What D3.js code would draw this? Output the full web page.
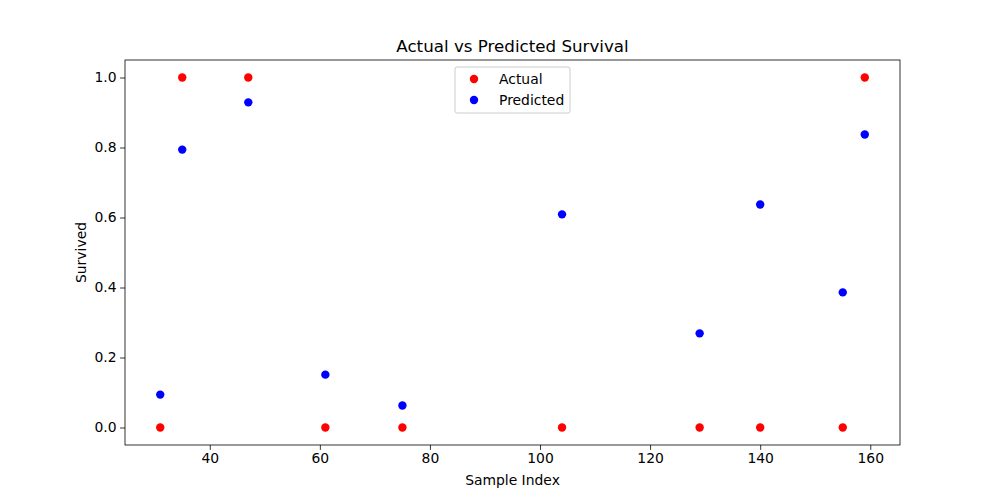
<!DOCTYPE html>
<html>
<head>
<meta charset="utf-8">
<script src="https://cdn.jsdelivr.net/npm/d3@7"></script>
<style>body{margin:0;background:#fff}</style>
</head>
<body>
<script>
const sampleIndex = [31, 35, 47, 61, 75, 104, 129, 140, 155, 159];
const actual = [0, 1, 1, 0, 0, 0, 0, 0, 0, 1];
const predicted = [0.094, 0.794, 0.929, 0.151, 0.063, 0.609, 0.269, 0.637, 0.386, 0.837];
const xTicks = [40, 60, 80, 100, 120, 140, 160];
const yTicks = [0, 0.2, 0.4, 0.6, 0.8, 1.0];

const W = 1000, H = 500;
const m = { left: 125, right: 100, top: 60, bottom: 55 };
const font = "DejaVu Sans, sans-serif";
const fs = 13.9;

const svg = d3.select("body").append("svg").attr("width", W).attr("height", H);

const xMin = d3.min(sampleIndex), xMax = d3.max(sampleIndex);
const xPad = (xMax - xMin) * 0.05;
const x = d3.scaleLinear().domain([xMin - xPad, xMax + xPad]).range([m.left, W - m.right]);
const y = d3.scaleLinear().domain([-0.05, 1.05]).range([H - m.bottom, m.top]);

const xAxis = svg.append("g")
    .attr("transform", `translate(0,${H - m.bottom})`)
    .call(d3.axisBottom(x).tickValues(xTicks).tickSize(4.9).tickPadding(3.5).tickFormat(d3.format("d")));
const yAxis = svg.append("g")
    .attr("transform", `translate(${m.left},0)`)
    .call(d3.axisLeft(y).tickValues(yTicks).tickSize(4.9).tickPadding(3.5).tickFormat(d3.format(".1f")));
[xAxis, yAxis].forEach(a => {
    a.select(".domain").remove();
    a.selectAll("text").attr("font-family", font).attr("font-size", fs).attr("fill", "#000");
    a.selectAll("line").attr("stroke", "#000").attr("stroke-width", 0.8);
});

svg.append("rect")
    .attr("x", m.left).attr("y", m.top)
    .attr("width", W - m.left - m.right).attr("height", H - m.top - m.bottom)
    .attr("fill", "none").attr("stroke", "#000").attr("stroke-width", 0.8);

svg.append("g").selectAll("circle")
    .data(sampleIndex.map((d, i) => [d, actual[i]]))
    .join("circle")
    .attr("cx", d => x(d[0])).attr("cy", d => y(d[1])).attr("r", 4.2).attr("fill", "red");

svg.append("g").selectAll("circle")
    .data(sampleIndex.map((d, i) => [d, predicted[i]]))
    .join("circle")
    .attr("cx", d => x(d[0])).attr("cy", d => y(d[1])).attr("r", 4.2).attr("fill", "blue");

svg.append("text").attr("x", (m.left + W - m.right) / 2).attr("y", m.top - 8)
    .attr("text-anchor", "middle").attr("font-family", font).attr("font-size", 16.7).text("Actual vs Predicted Survival");
svg.append("text").attr("x", (m.left + W - m.right) / 2).attr("y", 485)
    .attr("text-anchor", "middle").attr("font-family", font).attr("font-size", fs).text("Sample Index");
svg.append("text").attr("transform", `translate(86,${(m.top + H - m.bottom) / 2}) rotate(-90)`)
    .attr("text-anchor", "middle").attr("font-family", font).attr("font-size", fs).text("Survived");

// legend
const lg = svg.append("g").attr("transform", "translate(455,67)");
lg.append("rect").attr("width", 115).attr("height", 46).attr("rx", 2)
    .attr("fill", "#fff").attr("fill-opacity", 0.8).attr("stroke", "#ccc");
[["Actual", "red"], ["Predicted", "blue"]].forEach(([label, c], i) => {
    lg.append("circle").attr("cx", 19).attr("cy", 12 + i * 21).attr("r", 4.2).attr("fill", c);
    lg.append("text").attr("x", 44).attr("y", 17 + i * 21)
        .attr("font-family", font).attr("font-size", fs).text(label);
});
</script>
</body>
</html>
